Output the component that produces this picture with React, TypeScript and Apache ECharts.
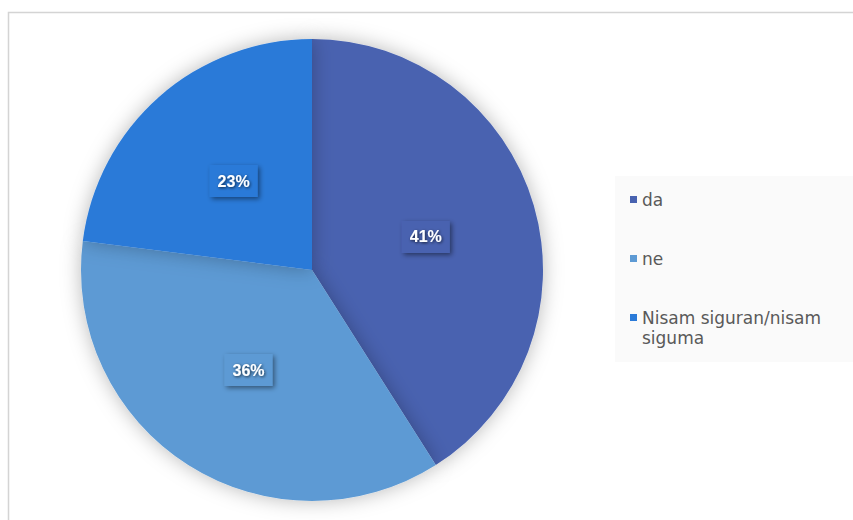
import React, { useEffect, useRef } from "react";
import * as echarts from "echarts";

const categories = ["da", "ne", "Nisam siguran/nisam siguma"];
const legendLines = [["da"], ["ne"], ["Nisam siguran/nisam", "siguma"]];
const values = [41, 36, 23];
const colors = ["#4862b0", "#5d9ad4", "#2a7ad8"];

export default function App() {
  const ref = useRef<HTMLDivElement>(null);
  useEffect(() => {
    if (!ref.current) return;
    const chart = echarts.init(ref.current, null, { renderer: "svg" });
    const rich: any = {
      t: { fontSize: 17, color: "#595959", lineHeight: 20, fontFamily: "DejaVu Sans, Verdana, sans-serif" },
      ind: { width: 12, lineHeight: 20 },
    };
    colors.forEach((c, i) => {
      rich["sq" + i] = { width: 7, height: 7, backgroundColor: c, lineHeight: 20 };
      rich["gap" + i] = { width: 5, lineHeight: 20 };
    });
    chart.setOption({
      animation: false,
      backgroundColor: "#ffffff",
      graphic: [
        {
          type: "rect",
          shape: { x: 8.5, y: 12.5, width: 900, height: 600 },
          style: { fill: "none", stroke: "#d4d4d4", lineWidth: 1.5 },
          silent: true,
        },
        {
          type: "rect",
          shape: { x: 615, y: 176, width: 245, height: 186 },
          style: { fill: "#fafafa", stroke: "none" },
          silent: true,
          z: -1,
        },
      ],
      legend: {
        orient: "vertical",
        left: 625,
        top: 191,
        padding: 0,
        icon: "none",
        itemWidth: 0,
        itemHeight: 0,
        itemGap: 42,
        selectedMode: false,
        data: categories,
        textStyle: { rich },
        formatter: (name: string) => {
          const i = categories.indexOf(name);
          const lines = legendLines[i];
          return lines
            .map((l, k) =>
              k === 0 ? `{sq${i}| }{gap${i}|}{t|${l}}` : `{ind|}{t|${l}}`
            )
            .join("\n");
        },
      },
      series: [
        {
          type: "pie",
          center: [312, 270],
          radius: 231,
          startAngle: 90,
          clockwise: true,
          data: categories.map((n, i) => ({
            name: n,
            value: values[i],
            itemStyle: { color: colors[i] },
          })),
          itemStyle: {
            shadowColor: "rgba(0,0,0,0.28)",
            shadowBlur: 20,
          },
          label: {
            position: "inside",
            formatter: "{c}%",
            fontSize: 16,
            fontWeight: "bold",
            fontFamily: "Liberation Sans, Arial, sans-serif",
            color: "#ffffff",
            textShadowColor: "rgba(0,0,0,0.7)",
            textShadowBlur: 3,
            textShadowOffsetX: 1,
            textShadowOffsetY: 1,
            backgroundColor: "inherit",
            padding: [8, 8, 8, 8],
            shadowColor: "rgba(0,0,0,0.45)",
            shadowBlur: 5,
            shadowOffsetX: 2,
            shadowOffsetY: 2,
          },
          labelLine: { show: false },
          emphasis: { disabled: true },
        },
      ],
    });
    return () => chart.dispose();
  }, []);
  return (
    <div
      ref={ref}
      style={{ position: "fixed", left: 0, top: 0, width: 853, height: 520 }}
    />
  );
}
